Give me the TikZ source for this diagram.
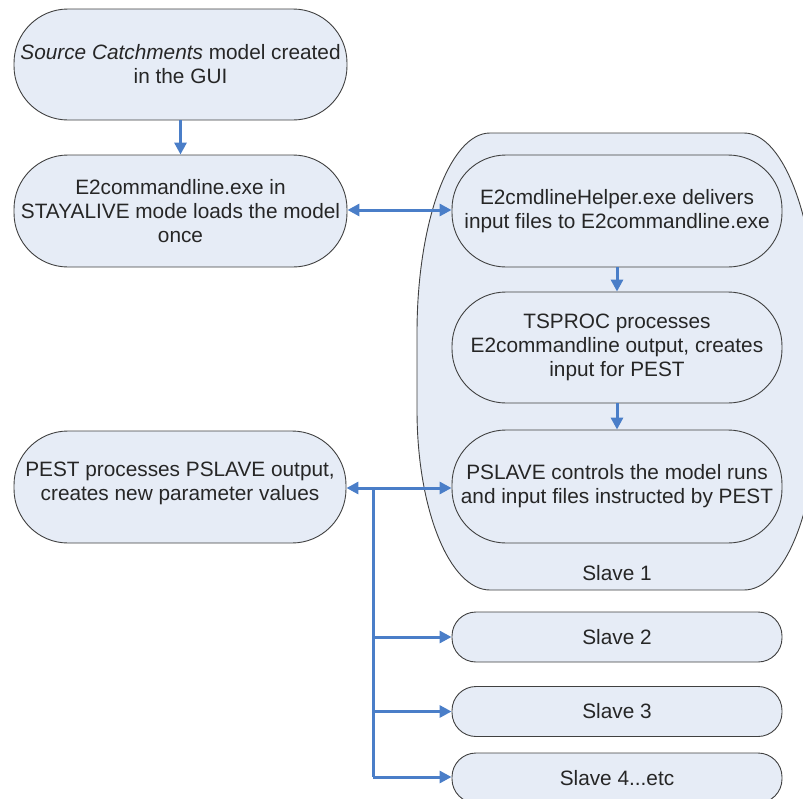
\documentclass[tikz,border=0pt]{standalone}
\usepackage{fontspec}
\setmainfont{Liberation Sans}
\usetikzlibrary{arrows.meta}
\definecolor{boxfill}{RGB}{230,236,246}
\definecolor{boxline}{RGB}{64,64,64}
\definecolor{arrowblue}{RGB}{74,126,200}
\tikzset{
  x=1pt,y=1pt,
  every node/.style={font=\fontsize{20.8}{24}\selectfont, text=black!85},
  termbox/.style={draw=boxline, fill=boxfill, line width=0.9pt, rectangle,
    rounded corners=#1, inner sep=0pt, align=center},
  conn/.style={draw=arrowblue, line width=3pt,
    -{Triangle[length=12pt,width=12pt]}},
  biconn/.style={draw=arrowblue, line width=3pt,
    {Triangle[length=12pt,width=12pt]}-{Triangle[length=12pt,width=12pt]}},
  plain/.style={draw=arrowblue, line width=3pt}
}
\begin{document}
\begin{tikzpicture}
\useasboundingbox (0,0) rectangle (803,-798);
\clip (0,0) rectangle (803,-798);
% Slave 1 container
\path[draw=boxline, fill=boxfill, line width=0.9pt]
  (490,-133) -- (744,-133)
  arc[start angle=90, end angle=0, x radius=73, y radius=200]
  -- (817,-410)
  arc[start angle=0, end angle=-90, x radius=73, y radius=180]
  -- (490,-590)
  arc[start angle=270, end angle=180, x radius=73, y radius=180]
  -- (417,-333)
  arc[start angle=180, end angle=90, x radius=73, y radius=200]
  -- cycle;
\node (s1) at (617,-573) {Slave 1};
% Left column
\node[termbox=54pt, minimum width=333pt, minimum height=111pt] (a) at (180.5,-64.5)
  {\textit{Source Catchments} model created\\in the GUI};
\node[termbox=54pt, minimum width=333pt, minimum height=112pt] (b) at (180.5,-211)
  {E2commandline.exe in\\STAYALIVE mode loads the model\\once};
\node[termbox=54pt, minimum width=332pt, minimum height=112pt,
  label={[name=pestlbl, align=center, yshift=3.5pt]center:{PEST processes PSLAVE output,\\creates new parameter values}}]
  (pest) at (180,-487) {};
% Right column
\node[termbox=54pt, minimum width=330pt, minimum height=112pt] (h) at (617,-211)
  {E2cmdlineHelper.exe delivers\\input files to E2commandline.exe};
\node[termbox=54pt, minimum width=330pt, minimum height=111pt] (t) at (617,-347.5)
  {TSPROC processes\\E2commandline output, creates\\input for PEST};
\node[termbox=54pt, minimum width=330pt, minimum height=113pt] (p) at (617,-486.5)
  {PSLAVE controls the model runs\\and input files instructed by PEST};
\node[termbox=24pt, minimum width=330pt, minimum height=50pt] (s2) at (617,-637) {Slave 2};
\node[termbox=24pt, minimum width=330pt, minimum height=50pt] (s3) at (617,-711.5) {Slave 3};
\node[termbox=24pt, minimum width=330pt, minimum height=50pt] (s4) at (617,-778) {Slave 4...etc};
% Connectors
\draw[conn] (a) -- (b);
\draw[biconn] (b.east |- 0,-210) -- (h.west |- 0,-210);
\draw[conn] (h) -- (t);
\draw[conn] (t) -- (p);
\coordinate (j) at (373,-488);
\coordinate (jb) at (373,-777);
\draw[plain] (j) -- (jb);
\draw[conn] (j) -- (pest.east |- j);
\draw[conn] (j) -- (p.west |- j);
\draw[conn] (j |- s2) -- (s2.west);
\draw[conn] (j |- s3) -- (s3.west);
\draw[conn] (jb) -- (s4.west |- jb);
\end{tikzpicture}
\end{document}
